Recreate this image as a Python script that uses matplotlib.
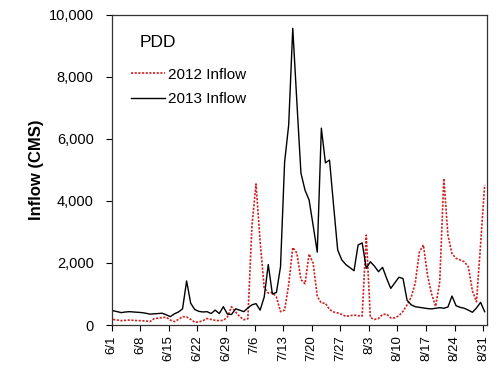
import matplotlib
matplotlib.use("Agg")
import matplotlib.pyplot as plt
from matplotlib.ticker import FuncFormatter
import numpy as np

plt.rcParams['font.family'] = ['Liberation Sans', 'DejaVu Sans']

tick_labels = ["6/1", "6/8", "6/15", "6/22", "6/29", "7/6", "7/13", "7/20",
               "7/27", "8/3", "8/10", "8/17", "8/24", "8/31"]

inflow_2012 = [180, 160, 140, 150, 160, 150, 140, 140, 130, 110,
               200, 220, 240, 250, 160, 110, 180, 270, 260, 180,
               90, 100, 140, 210, 180, 150, 140, 150, 260, 590,
               420, 270, 170, 200, 3200, 4550, 2700, 1200, 1030, 1050,
               900, 430, 480, 1300, 2500, 2320, 1460, 1330, 2290, 1990,
               920, 710, 700, 500, 420, 390, 340, 280, 300, 320,
               300, 290, 2900, 240, 180, 210, 340, 350, 230, 230,
               300, 440, 650, 900, 1350, 2350, 2580, 1600, 1000, 600,
               1400, 4730, 2900, 2300, 2150, 2100, 2040, 1880, 1100, 750,
               2600, 4520]

inflow_2013 = [460, 430, 400, 420, 430, 420, 410, 400, 380, 350,
               360, 370, 380, 330, 270, 360, 420, 520, 1420, 700,
               500, 440, 420, 430, 370, 480, 370, 590, 350, 340,
               520, 480, 430, 550, 650, 690, 480, 900, 1950, 1000,
               1050, 1880, 5250, 6450, 9570, 7200, 4900, 4350, 4030, 3200,
               2350, 6350, 5230, 5320, 3850, 2420, 2100, 1950, 1850, 1750,
               2580, 2650, 1830, 2040, 1900, 1720, 1860, 1500, 1180, 1360,
               1540, 1500, 800, 650, 590, 570, 550, 530, 520, 540,
               560, 540, 580, 935, 620, 570, 540, 480, 410, 550,
               730, 430]

days = np.arange(len(inflow_2012)) + 0.35
tick_pos = np.arange(0, 92, 7)

fig = plt.figure(figsize=(5.0, 3.74), dpi=100)
ax = fig.add_axes([0.2234, 0.131, 0.75, 0.829])

ax.plot(days, inflow_2012, color='#d02020', linestyle=(0, (1.3, 0.9)),
        linewidth=1.2, label='2012 Inflow')
ax.plot(days, inflow_2013, color='black', linestyle='-', linewidth=1.0,
        label='2013 Inflow')

ax.set_xlim(0, 91.85)
ax.set_ylim(0, 10000)
ax.set_xticks(tick_pos)
ax.set_xticklabels(tick_labels, rotation=90, fontsize=9.5)
ax.set_yticks(np.arange(0, 10001, 2000))
ax.yaxis.set_major_formatter(FuncFormatter(lambda v, p: f"{int(v):,}"))
ax.tick_params(axis='y', labelsize=10.5, direction='out', length=4, width=0.8,
               pad=9)
ax.tick_params(axis='x', direction='out', length=4, width=0.8)
for s in ax.spines.values():
    s.set_linewidth(0.9)
    s.set_color('#333333')

ax.set_ylabel('Inflow (CMS)', fontsize=12, fontweight='bold', labelpad=3)

ax.text(0.075, 0.91, 'PDD', transform=ax.transAxes, fontsize=12.5,
        va='center', ha='left')

leg = ax.legend(loc='upper left', bbox_to_anchor=(0.035, 0.85), frameon=False,
                fontsize=11, handlelength=2.2, handletextpad=0.2,
                labelspacing=0.68, borderaxespad=0.0)

fig.savefig('out.png', dpi=100)
